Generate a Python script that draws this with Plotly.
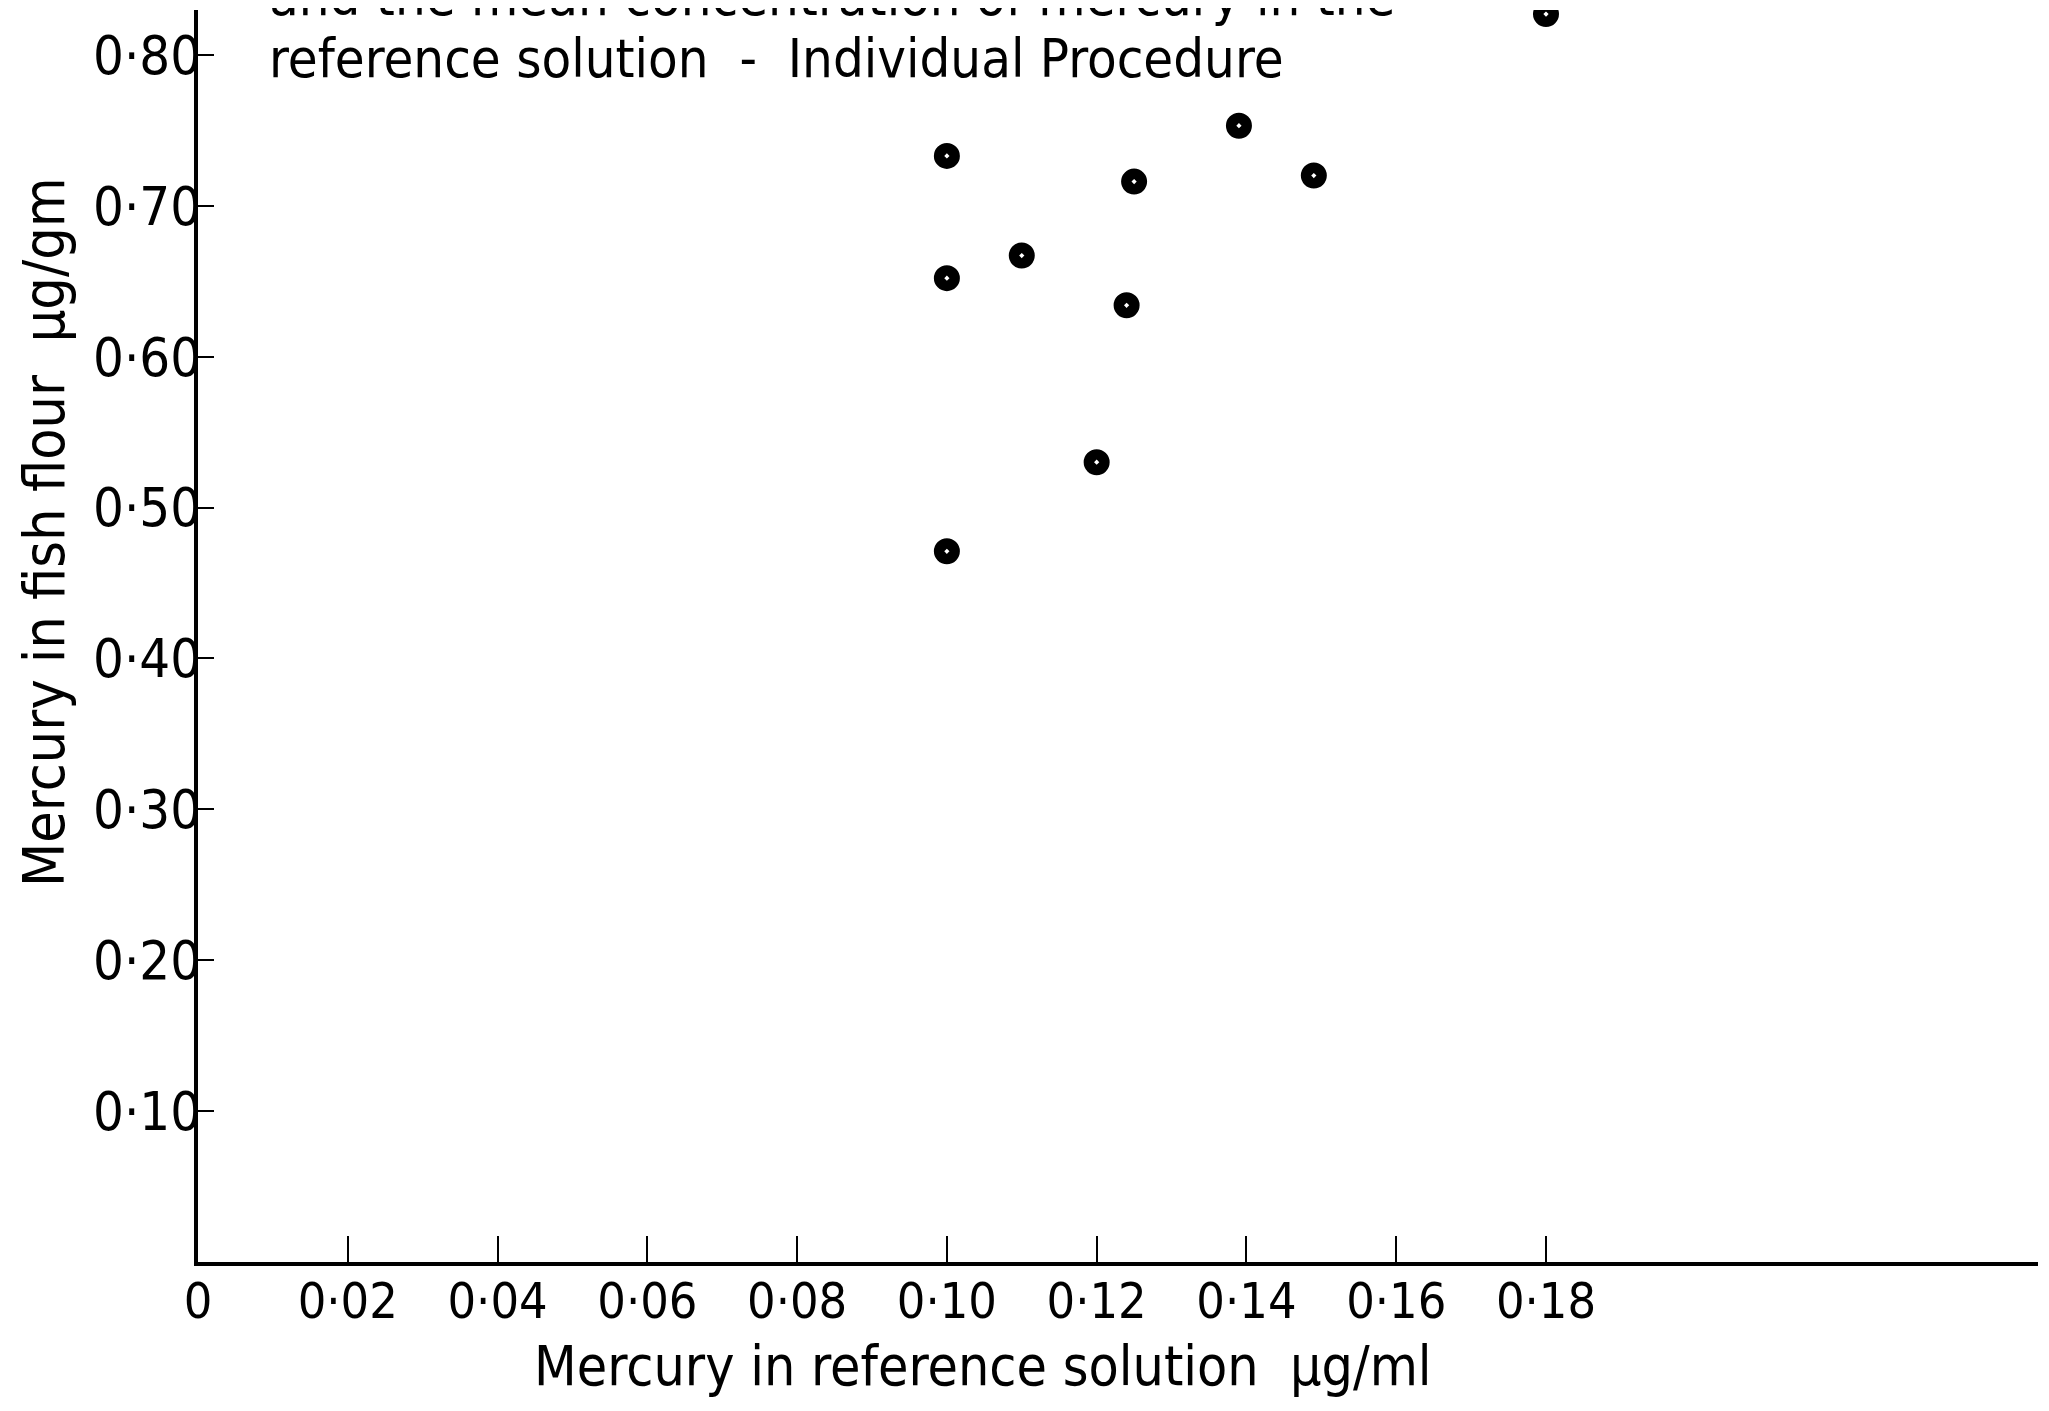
import plotly.graph_objects as go

# Data
x_ref = [0.10, 0.10, 0.10, 0.11, 0.12, 0.124, 0.125, 0.139, 0.149, 0.18]
y_fish = [0.733, 0.652, 0.471, 0.667, 0.530, 0.634, 0.716, 0.753, 0.720, 0.827]

x_tickvals = [0, 0.02, 0.04, 0.06, 0.08, 0.10, 0.12, 0.14, 0.16, 0.18]
x_ticktext = ["0", "0·02", "0·04", "0·06", "0·08", "0·10", "0·12", "0·14", "0·16", "0·18"]
y_tickvals = [0.1, 0.2, 0.3, 0.4, 0.5, 0.6, 0.7, 0.8]
y_ticktext = ["0·10", "0·20", "0·30", "0·40", "0·50", "0·60", "0·70", "0·80"]

title_lines = ["and the mean concentration of mercury in the",
               "reference solution  -  Individual Procedure"]
x_title = "Mercury in reference solution  µg/ml"
y_title = "Mercury in fish flour  µg/gm"

FONT = "DejaVu Sans Condensed, DejaVu Sans, sans-serif"

L, R, T, B = 190, 19, 2, 157
PW, PH = 2049 - L - R, 1411 - T - B

fig = go.Figure()
fig.add_trace(go.Scatter(
    x=x_ref, y=y_fish, mode="markers",
    marker=dict(symbol="circle-dot", size=29, color="black",
                line=dict(color="white", width=3)),
    showlegend=False, hoverinfo="x+y"))

fig.update_layout(
    width=2049, height=1411,
    margin=dict(l=L, r=R, t=T, b=B),
    paper_bgcolor="white", plot_bgcolor="white",
    font=dict(family=FONT, size=54, color="black"),
    showlegend=False,
)
fig.update_xaxes(
    range=[0, 0.2457], showgrid=False, zeroline=False,
    showline=True, linecolor="black", linewidth=4,
    ticks="inside", ticklen=26, tickwidth=2, tickcolor="black",
    tickvals=x_tickvals, ticktext=x_ticktext,
    tickfont=dict(family=FONT, size=50), ticklabelstandoff=-8,
)
fig.update_yaxes(
    range=[0, 0.8297], showgrid=False, zeroline=False,
    showline=True, linecolor="black", linewidth=4,
    ticks="inside", ticklen=16, tickwidth=2, tickcolor="black",
    tickvals=y_tickvals, ticktext=y_ticktext,
    tickfont=dict(family=FONT, size=54), ticklabelstandoff=-18,
)

fig.add_annotation(text=title_lines[0], xref="paper", yref="paper",
                   x=(259 - L) / PW, y=1 + 13 / PH, xanchor="left", yanchor="middle",
                   showarrow=False, font=dict(family=FONT, size=54))
fig.add_annotation(text=title_lines[1], xref="paper", yref="paper",
                   x=(259 - L) / PW, y=1 - 48 / PH, xanchor="left", yanchor="middle",
                   showarrow=False, font=dict(family=FONT, size=54))
fig.add_annotation(text=x_title, xref="paper", yref="paper",
                   x=(975 - L) / PW, y=-(1358 - 1254) / PH, xanchor="center", yanchor="middle",
                   showarrow=False, font=dict(family=FONT, size=55))
fig.add_annotation(text=y_title, xref="paper", yref="paper", textangle=-90,
                   x=-(L - 36) / PW, y=(1254 - 524) / PH, xanchor="center", yanchor="middle",
                   showarrow=False, font=dict(family=FONT, size=57))

fig.write_html("out.html")
